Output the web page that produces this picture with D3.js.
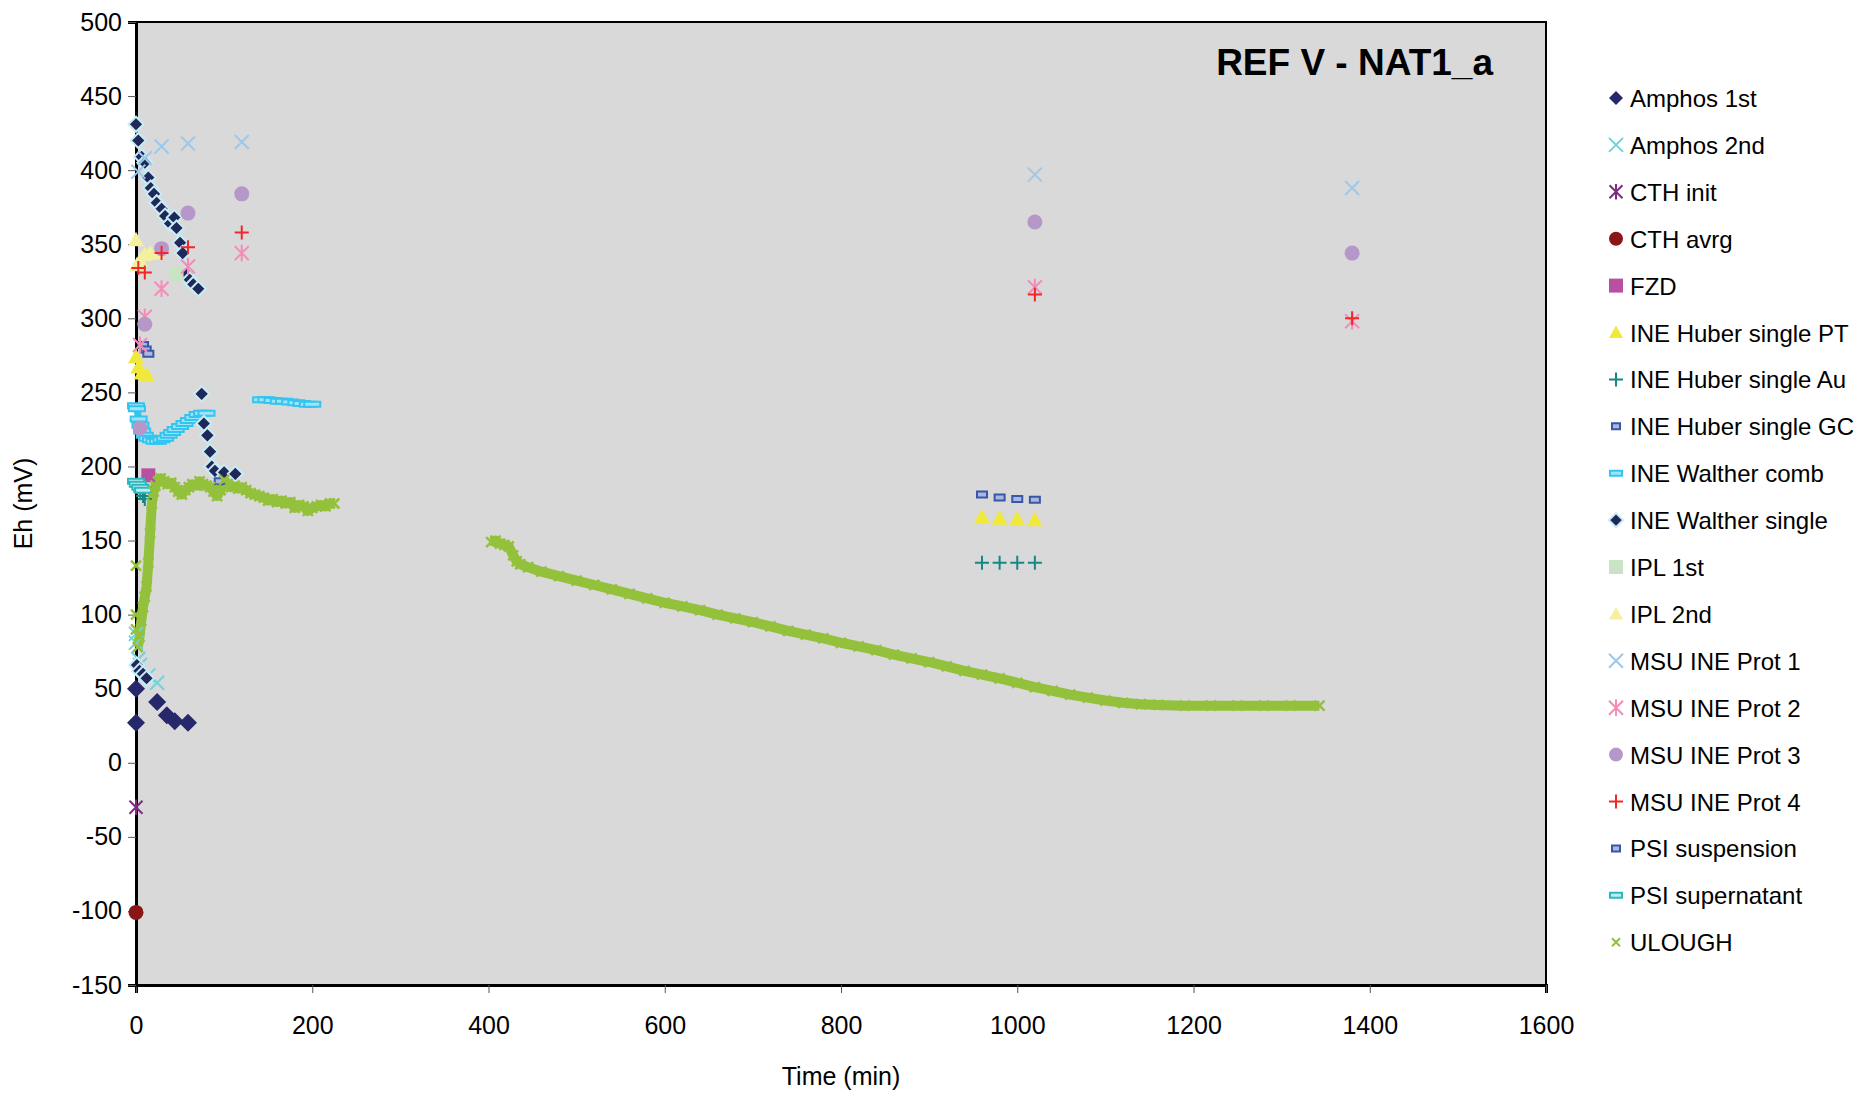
<!DOCTYPE html>
<html>
<head>
<meta charset="utf-8">
<script src="https://cdn.jsdelivr.net/npm/d3@7"></script>
<style>
  body { margin: 0; background: #fff; }
  svg { display: block; font-family: 'Liberation Sans', Arial, sans-serif; }
</style>
</head>
<body>
<svg id="chart" width="1865" height="1093"></svg>
<script>
// ---------- data: [time (min), Eh (mV)] ----------
const amphos1st = [[0, 50], [0, 27], [24, 41], [35, 32], [44, 28], [59, 27]];
const amphos2nd = [[0, 87], [0, 81], [2.6, 70], [4.5, 66], [14, 59], [24, 54]];
const cthInit = [[0, -30]];
const cthAvrg = [[0, -101]];
const fzd = [[14, 194]];
const ineHuberPT = [[0, 274], [2.6, 267], [6.4, 263], [12, 262], [960, 166], [980, 165], [1000, 164.5], [1020, 164]];
const ineHuberAu = [[2, 186], [5, 183], [8, 180], [10, 178], [960, 135], [980, 135], [1000, 135], [1020, 135]];
const ineHuberGC = [[8, 282], [11, 279], [14, 276], [960, 181], [980, 179], [1000, 178], [1020, 177.5]];
const ineWaltherComb = [
  [0, 241], [1, 239], [3, 232], [5, 228], [7, 224], [10, 221], [13, 219], [17, 218], [21, 217], [25, 217],
  [29, 218], [33, 219], [37, 221], [41, 223], [45, 225], [50, 227], [55, 229], [60, 231], [65, 233], [70, 235],
  [75, 236], [80, 236],
  [142, 245], [148, 245], [155, 244.5], [162, 244], [168, 244], [175, 243.5], [182, 243], [188, 242.5], [195, 242], [200, 242]
];
const ineWaltherSingle = [
  [0, 431], [2.6, 420], [6.4, 409], [10, 405], [14, 395], [16.7, 388], [20.4, 384], [23.5, 378], [29, 374], [33, 369],
  [38.6, 364], [43.5, 368], [46, 361], [50, 351], [53, 344], [57.5, 330], [61, 326], [65, 323], [70.7, 320],
  [74.5, 249], [77, 229], [81, 221], [84, 210], [86, 200], [89.6, 197], [100, 196], [112.7, 195],
  [1, 66], [4, 62], [8, 60], [12, 57]
];
const ipl1st = [[46, 330]];
const ipl2nd = [[0, 353], [1, 336], [4.5, 339], [10, 343], [16, 344], [23.5, 344]];
const msuProt1 = [[2.6, 399], [10, 408], [29, 416], [59, 418], [120, 419], [1020, 397], [1380, 388]];
const msuProt2 = [[4.5, 282], [10, 301], [29, 320], [59, 335], [120, 344], [1020, 321], [1380, 298]];
const msuProt3 = [[4.5, 226], [10, 296], [29, 347], [59, 371], [120, 384], [1020, 365], [1380, 344]];
const msuProt4 = [[2.6, 334], [10, 331], [29, 344], [59, 348], [120, 358], [1020, 316], [1380, 300]];
const psiSuspension = [[3, 187], [8, 185], [95, 190]];
const psiSupernatant = [[0, 190], [2, 188], [5, 186], [8, 184]];
const ulough = [
  [0, 133], [0, 100], [0, 90],
  [2, 78], [4, 85], [6, 96], [8, 105], [10, 112], [12, 119], [14, 135], [16, 155], [18, 175], [20, 183], [22, 187],
  [25, 190], [28, 192], [32, 190], [36, 188], [40, 189], [44, 186], [48, 183], [52, 181], [56, 184], [60, 186],
  [64, 188], [68, 187], [72, 190], [76, 188], [80, 187], [84, 186], [88, 183], [92, 180], [96, 184], [100, 191],
  [104, 188], [108, 186], [112, 187], [116, 185], [120, 186], [125, 184], [130, 182], [135, 181], [140, 180],
  [145, 179], [150, 177], [155, 178], [160, 176], [165, 177], [170, 175], [175, 176], [180, 172], [185, 174],
  [190, 173], [195, 170], [200, 172], [205, 173], [210, 174], [215, 173], [220, 175], [225, 175]
];
const ulough2 = [
  [403, 149], [408, 150], [413, 148], [418, 147], [423, 146], [428, 140], [432, 136], [436, 134], [445, 132],
  [460, 129], [480, 126], [500, 123], [520, 120], [540, 117], [560, 114], [580, 111], [600, 108], [620, 105.5],
  [640, 103], [660, 100], [680, 97.5], [700, 95], [720, 92], [740, 89], [760, 86.5], [780, 84], [800, 81],
  [820, 78.5], [840, 76], [860, 73], [880, 70.5], [900, 68], [920, 65], [940, 62], [960, 59.5], [980, 57],
  [1000, 54], [1020, 51], [1040, 48.5], [1060, 46], [1080, 44], [1100, 42], [1120, 40.5], [1140, 39.5],
  [1160, 39], [1190, 38.5], [1220, 38.5], [1250, 38.5], [1280, 38.5], [1310, 38.5], [1343, 38.5]
];

const xTicks = [0, 200, 400, 600, 800, 1000, 1200, 1400, 1600];
const yTicks = [-150, -100, -50, 0, 50, 100, 150, 200, 250, 300, 350, 400, 450, 500];
const chartTitle = 'REF V - NAT1_a';

// ---------- marker shapes ----------
const shape = (type, s) => {
  switch (type) {
    case 'diamond': return `M0,${-s}L${s},0L0,${s}L${-s},0Z`;
    case 'times': return `M${-s},${-s}L${s},${s}M${-s},${s}L${s},${-s}`;
    case 'plus': return `M${-s},0H${s}M0,${-s}V${s}`;
    case 'asterisk': return `M${-s},${-s}L${s},${s}M${-s},${s}L${s},${-s}M0,${-s * 1.2}V${s * 1.2}`;
    case 'circle': return `M${s},0A${s},${s} 0 1,1 ${-s},0A${s},${s} 0 1,1 ${s},0Z`;
    case 'square': return `M${-s},${-s}H${s}V${s}H${-s}Z`;
    case 'triangle': return `M0,${-s}L${s},${s * 0.8}L${-s},${s * 0.8}Z`;
    case 'dash': return `M${-s},-2.5H${s}V2.5H${-s}Z`;
    case 'smallrect': return `M${-s},-3H${s}V3H${-s}Z`;
  }
};

// styles per series (legend order)
const series = [
  { name: 'Amphos 1st', data: amphos1st, type: 'diamond', size: 9, fill: '#27286b', stroke: 'none' },
  { name: 'Amphos 2nd', data: amphos2nd, type: 'times', size: 7, fill: 'none', stroke: '#72d2dc', sw: 2 },
  { name: 'CTH init', data: cthInit, type: 'asterisk', size: 6.5, fill: 'none', stroke: '#7b2c7e', sw: 2 },
  { name: 'CTH avrg', data: cthAvrg, type: 'circle', size: 7.5, fill: '#8a1618', stroke: 'none' },
  { name: 'FZD', data: fzd, type: 'square', size: 7, fill: '#b94fa0', stroke: 'none' },
  { name: 'INE Huber single PT', data: ineHuberPT, type: 'triangle', size: 8, fill: '#f1e83c', stroke: 'none' },
  { name: 'INE Huber single Au', data: ineHuberAu, type: 'plus', size: 7, fill: 'none', stroke: '#168686', sw: 2 },
  { name: 'INE Huber single GC', data: ineHuberGC, type: 'smallrect', size: 5, fill: '#aab8e0', stroke: '#3a56a8', sw: 2 },
  { name: 'INE Walther comb', data: ineWaltherComb, type: 'dash', size: 8, fill: '#9fe3f8', stroke: '#33c5f0', sw: 2 },
  { name: 'INE Walther single', data: ineWaltherSingle, type: 'diamond', size: 7.5, fill: '#1f2858', stroke: '#c8ecf6', sw: 2 },
  { name: 'IPL 1st', data: ipl1st, type: 'square', size: 7, fill: '#c8e4c4', stroke: 'none' },
  { name: 'IPL 2nd', data: ipl2nd, type: 'triangle', size: 8, fill: '#f5f0a0', stroke: 'none' },
  { name: 'MSU INE Prot 1', data: msuProt1, type: 'times', size: 7, fill: 'none', stroke: '#9ec8ea', sw: 2 },
  { name: 'MSU INE Prot 2', data: msuProt2, type: 'asterisk', size: 7, fill: 'none', stroke: '#f48cb8', sw: 2 },
  { name: 'MSU INE Prot 3', data: msuProt3, type: 'circle', size: 7.5, fill: '#b597c9', stroke: 'none' },
  { name: 'MSU INE Prot 4', data: msuProt4, type: 'plus', size: 7, fill: 'none', stroke: '#f02828', sw: 2 },
  { name: 'PSI suspension', data: psiSuspension, type: 'smallrect', size: 5, fill: '#aab8e0', stroke: '#3a56a8', sw: 2 },
  { name: 'PSI supernatant', data: psiSupernatant, type: 'dash', size: 8, fill: '#bdeef0', stroke: '#2cb8c0', sw: 2 },
  { name: 'ULOUGH', data: ulough.concat(ulough2), type: 'times', size: 5, fill: 'none', stroke: '#94c13c', sw: 2.5 }
];

// ---------- layout ----------
const margin = { left: 136, top: 22 };
const plotW = 1410, plotH = 963;
const svg = d3.select('#chart');

const x = d3.scaleLinear().domain([0, 1600]).range([margin.left, margin.left + plotW]);
const y = d3.scaleLinear().domain([-150, 500]).range([margin.top + plotH, margin.top]);

// plot background
svg.append('rect')
  .attr('x', x(0)).attr('y', y(500))
  .attr('width', plotW).attr('height', plotH)
  .attr('fill', '#d9d9d9')
  .attr('stroke', '#000').attr('stroke-width', 2);

// axes
const xAxis = svg.append('g')
  .attr('transform', `translate(0,${y(-150)})`)
  .call(d3.axisBottom(x).tickValues(xTicks).tickSize(8).tickPadding(23).tickFormat(d => String(d)));
const yAxis = svg.append('g')
  .attr('transform', `translate(${x(0)},0)`)
  .call(d3.axisLeft(y).tickValues(yTicks).tickSize(8).tickPadding(6).tickFormat(d => String(d)));

[xAxis, yAxis].forEach(g => {
  g.select('.domain').attr('stroke', '#000').attr('stroke-width', 3);
  g.selectAll('.tick line').attr('stroke', '#555').attr('stroke-width', 1);
  g.selectAll('.tick text').attr('font-size', 25).attr('fill', '#000').attr('font-family', "'Liberation Sans', Arial, sans-serif");
});

// clip to plot
svg.append('clipPath').attr('id', 'plotClip')
  .append('rect').attr('x', x(0) - 10).attr('y', y(500)).attr('width', plotW + 10).attr('height', plotH);

const marks = svg.append('g').attr('clip-path', 'url(#plotClip)');

// ULOUGH dense logging drawn as a thick band behind its markers
const bandLine = d3.line().x(d => x(d[0])).y(d => y(d[1]));
[ulough.slice(3), ulough2].forEach(seg => {
  marks.append('path')
    .attr('d', bandLine(seg))
    .attr('fill', 'none')
    .attr('stroke', '#94c13c')
    .attr('stroke-width', 10)
    .attr('stroke-linejoin', 'round');
});

// Walther comb band
const combSegs = [ineWaltherComb.slice(0, 22), ineWaltherComb.slice(22)];
combSegs.forEach(seg => {
  marks.append('path')
    .attr('d', bandLine(seg))
    .attr('fill', 'none')
    .attr('stroke', '#33c5f0')
    .attr('stroke-width', 7);
});

series.forEach(s => {
  marks.append('g').attr('class', 'series')
    .selectAll('path')
    .data(s.data)
    .join('path')
    .attr('transform', d => `translate(${x(d[0])},${y(d[1])})`)
    .attr('d', shape(s.type, s.size))
    .attr('fill', s.fill)
    .attr('stroke', s.stroke)
    .attr('stroke-width', s.sw || 0);
});

// title
svg.append('text')
  .attr('x', 1493).attr('y', 75)
  .attr('text-anchor', 'end')
  .attr('font-size', 37).attr('font-weight', 'bold')
  .text(chartTitle);

// axis titles
svg.append('text')
  .attr('x', x(800)).attr('y', 1085)
  .attr('text-anchor', 'middle').attr('font-size', 25)
  .text('Time (min)');
svg.append('text')
  .attr('transform', `translate(32,${y(175)}) rotate(-90)`)
  .attr('text-anchor', 'middle').attr('font-size', 25)
  .text('Eh (mV)');

// legend
const legendTop = 98, legendStep = 46.9;
const legend = svg.append('g');
series.forEach((s, i) => {
  const row = legend.append('g').attr('transform', `translate(1616,${legendTop + i * legendStep})`);
  let size = s.size;
  if (s.type === 'dash') size = 6;
  if (s.type === 'smallrect') size = 4;
  if (s.name === 'ULOUGH') size = 4;
  row.append('path')
    .attr('d', shape(s.type, Math.min(size, 7)))
    .attr('fill', s.fill)
    .attr('stroke', s.stroke)
    .attr('stroke-width', s.name === 'ULOUGH' ? 2 : (s.sw || 0));
  row.append('text')
    .attr('x', 14).attr('y', 9)
    .attr('font-size', 24)
    .text(s.name);
});
</script>
</body>
</html>
